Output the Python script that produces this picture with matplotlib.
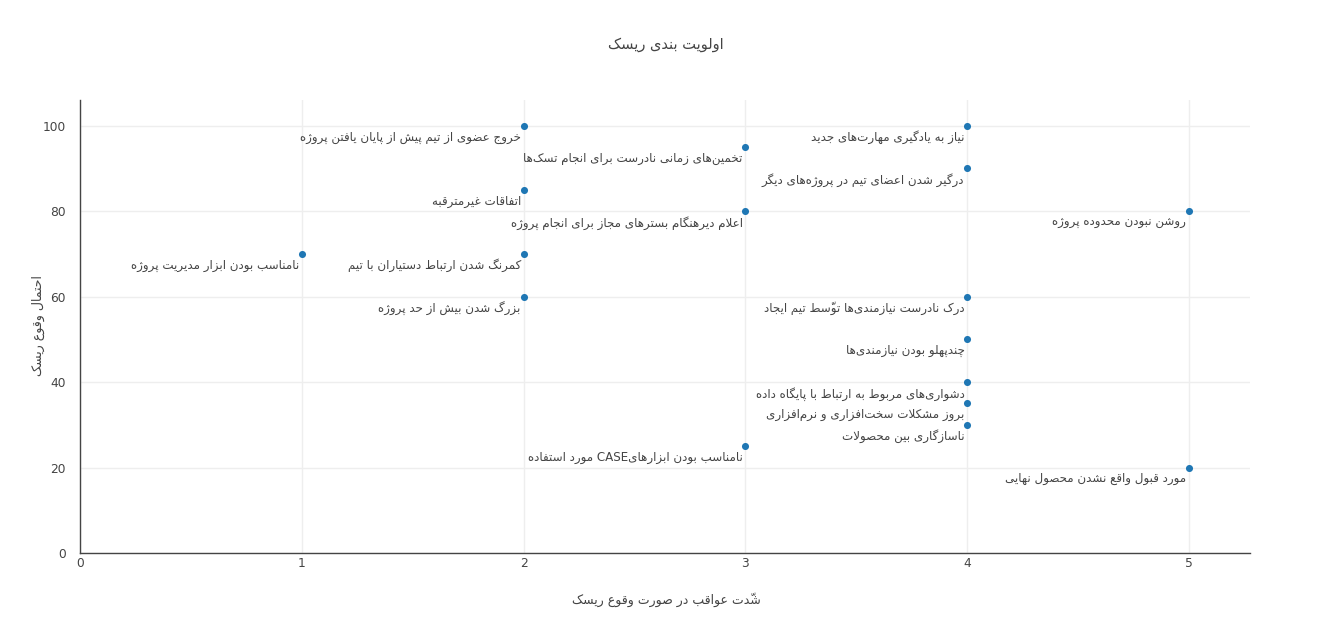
import re
import matplotlib
matplotlib.use("Agg")
import matplotlib.pyplot as plt

# ===== داده‌ها =====
severity = [2, 3, 2, 3, 1, 2, 2, 3, 4, 4, 5, 4, 4, 4, 4, 4, 5]
probability = [100, 95, 85, 80, 70, 70, 60, 25, 100, 90, 80, 60, 50, 40, 35, 30, 20]
risk_labels = [
    "خروج عضوی از تیم پیش از پایان یافتن پروژه",
    "تخمین\u200cهای زمانی نادرست برای انجام تسک\u200cها",
    "اتفاقات غیرمترقبه",
    "اعلام دیرهنگام بسترهای مجاز برای انجام پروژه",
    "نامناسب بودن ابزار مدیریت پروژه",
    "کمرنگ شدن ارتباط دستیاران با تیم",
    "بزرگ شدن بیش از حد پروژه",
    "نامناسب بودن ابزارهایCASE مورد استفاده",
    "نیاز به یادگیری مهارت\u200cهای جدید",
    "درگیر شدن اعضای تیم در پروژه\u200cهای دیگر",
    "روشن نبودن محدوده پروژه",
    "درک نادرست نیازمندی\u200cها توسّط تیم ایجاد",
    "چندپهلو بودن نیازمندی\u200cها",
    "دشواری\u200cهای مربوط به ارتباط با پایگاه داده",
    "بروز مشکلات سخت\u200cافزاری و نرم\u200cافزاری",
    "ناسازگاری بین محصولات",
    "مورد قبول واقع نشدن محصول نهایی",
]
title = "اولویت بندی ریسک"
x_title = "شدّت عواقب در صورت وقوع ریسک"
y_title = "احتمال وقوع ریسک"

# ===== شکل‌دهی ساده حروف فارسی (بدون arabic_reshaper) =====
DUAL = {'ب': 0xFE8F, 'ت': 0xFE95, 'ث': 0xFE99, 'ج': 0xFE9D, 'ح': 0xFEA1,
        'خ': 0xFEA5, 'س': 0xFEB1, 'ش': 0xFEB5, 'ص': 0xFEB9, 'ض': 0xFEBD,
        'ط': 0xFEC1, 'ظ': 0xFEC5, 'ع': 0xFEC9, 'غ': 0xFECD, 'ف': 0xFED1,
        'ق': 0xFED5, 'ك': 0xFED9, 'ل': 0xFEDD, 'م': 0xFEE1, 'ن': 0xFEE5,
        'ه': 0xFEE9, 'ي': 0xFEF1, 'ی': 0xFBFC, 'پ': 0xFB56, 'چ': 0xFB7A,
        'ک': 0xFB8E, 'گ': 0xFB92}
RIGHT = {'آ': 0xFE81, 'ا': 0xFE8D, 'د': 0xFEA9, 'ذ': 0xFEAB, 'ر': 0xFEAD,
         'ز': 0xFEAF, 'و': 0xFEED, 'ژ': 0xFB8A}
MARKS = set('\u064b\u064c\u064d\u064e\u064f\u0650\u0651\u0652')
LAM_ALEF = {'ا': (0xFEFB, 0xFEFC), 'آ': (0xFEF5, 0xFEF6)}


def shape(text):
    chars = list(text)
    n = len(chars)

    def near(i, step):
        j = i + step
        while 0 <= j < n and chars[j] in MARKS:
            j += step
        return j if 0 <= j < n else None

    out = []
    i = 0
    while i < n:
        c = chars[i]
        if c == '\u200c':
            i += 1
            continue
        if c in MARKS or (c not in DUAL and c not in RIGHT):
            out.append(c)
            i += 1
            continue
        p = near(i, -1)
        q = near(i, 1)
        prev = chars[p] if p is not None else None
        nxt = chars[q] if q is not None else None
        join_prev = prev in DUAL
        if c == 'ل' and nxt in LAM_ALEF:
            iso, fin = LAM_ALEF[nxt]
            out.append(chr(fin if join_prev else iso))
            i = q + 1
            continue
        join_next = c in DUAL and (nxt in DUAL or nxt in RIGHT)
        if c in RIGHT:
            base = RIGHT[c]
            out.append(chr(base + 1 if join_prev else base))
        else:
            base = DUAL[c]
            if join_prev and join_next:
                out.append(chr(base + 3))
            elif join_next:
                out.append(chr(base + 2))
            elif join_prev:
                out.append(chr(base + 1))
            else:
                out.append(chr(base))
        i += 1
    return out


def fa(text):
    glyphs = shape(text)
    clusters = []
    for g in glyphs:
        if g in MARKS and clusters:
            clusters[-1] += g
        else:
            clusters.append(g)
    runs = []
    for cl in clusters:
        ltr = bool(re.match(r'[A-Za-z0-9]', cl))
        if runs and runs[-1][0] == ltr:
            runs[-1][1].append(cl)
        else:
            runs.append((ltr, [cl]))
    parts = []
    for ltr, cls in reversed(runs):
        parts.append(''.join(cls if ltr else reversed(cls)))
    return ''.join(parts)


# ===== رسم =====
plt.rcParams['font.family'] = ['DejaVu Sans']
fig = plt.figure(figsize=(13.32, 6.33), dpi=100)
ax = fig.add_axes([0.060, 0.1264, 0.8785, 0.7156])

ax.scatter(severity, probability, s=26, color='#1f77b4', zorder=3, linewidths=0)
for x, y, lbl in zip(severity, probability, risk_labels):
    ax.annotate(fa(lbl), (x, y), xytext=(-2, -3.5), textcoords='offset points',
                ha='right', va='top', fontsize=8.6, color='#444444', zorder=4)

ax.set_xlim(0, 5.275)
ax.set_ylim(0, 106)
ax.set_xticks([0, 1, 2, 3, 4, 5])
ax.set_yticks([0, 20, 40, 60, 80, 100])
ax.grid(True, color='#eeeeee', linewidth=1)
ax.set_axisbelow(True)
for side in ('top', 'right'):
    ax.spines[side].set_visible(False)
for side in ('left', 'bottom'):
    ax.spines[side].set_color('#444444')
    ax.spines[side].set_linewidth(1)
ax.tick_params(colors='#444444', labelsize=8.8, length=0)
ax.tick_params(axis='y', pad=10)
ax.tick_params(axis='x', pad=3)

fig.text(0.5, 0.93, fa(title), ha='center', va='center', fontsize=10.5, color='#444444')
fig.text(0.5, 0.052, fa(x_title), ha='center', va='center', fontsize=9, color='#444444')
fig.text(0.029, 0.485, fa(y_title), ha='center', va='center', rotation=90,
         fontsize=9, color='#444444')

fig.savefig('out.png', dpi=100, facecolor='white')
